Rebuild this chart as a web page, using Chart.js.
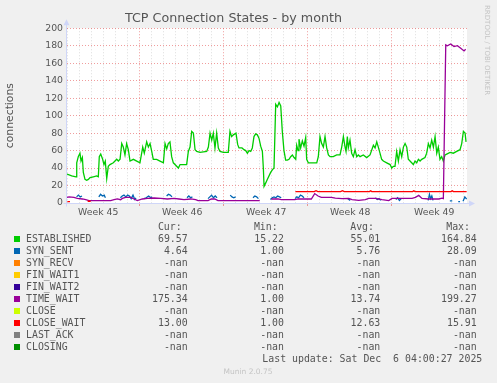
<!DOCTYPE html>
<html><head><meta charset="utf-8">
<script src="https://cdn.jsdelivr.net/npm/chart.js@4/dist/chart.umd.min.js"></script>
<style>
html,body{margin:0;padding:0;background:#F0F0F0;}
#wrap{position:relative;width:497px;height:383px;overflow:hidden;background:#F0F0F0;}
#c{position:absolute;left:0;top:0;}
.t{position:absolute;white-space:pre;font-family:'DejaVu Sans Mono',monospace;font-size:9.9px;line-height:12px;height:12px;color:#555;}
.sq{position:absolute;width:6px;height:6px;}
#wm{position:absolute;left:482px;top:5px;writing-mode:vertical-rl;font-family:'DejaVu Sans',sans-serif;font-size:7px;color:#c4c4c4;white-space:nowrap;line-height:9px;}
#ver{position:absolute;left:148px;width:200px;top:366px;text-align:center;font-family:'DejaVu Sans',sans-serif;font-size:7.5px;line-height:12px;color:#c4c4c4;}
</style></head>
<body><div id="wrap"><canvas id="c" width="497" height="383"></canvas>
<div id="wm">RRDTOOL / TOBI OETIKER</div>
<div id="ver">Munin 2.0.75</div>
</div>
<script>
// ---- axis / category data ----
const weekLabels  = ['Week 45','Week 46','Week 47','Week 48','Week 49'];
const weekCenters = [2.6, 9.6, 16.6, 23.6, 30.6];
const weekStarts  = [6, 13, 20, 27];
const yTicks = [0,20,40,60,80,100,120,140,160,180,200];

// ---- ESTABLISHED (days since start, connections) ----
const estT = [0,0.39,0.75,0.81,0.94,1.08,1.17,1.28,1.36,1.50,
1.64,1.78,1.92,2.19,2.47,2.61,2.69,2.81,2.97,3.08,
3.19,3.31,3.44,3.58,3.86,4.00,4.14,4.28,4.42,4.56,
4.69,4.83,4.97,5.11,5.25,5.53,5.81,6.08,6.31,6.44,
6.64,6.78,6.92,7.06,7.19,7.47,7.75,8.03,8.17,8.31,
8.44,8.58,8.72,8.86,9.00,9.14,9.28,9.42,9.69,9.97,
10.11,10.25,10.39,10.53,10.67,10.81,11.08,11.64,11.78,11.92,
12.06,12.19,12.33,12.47,12.61,12.75,13.03,13.44,13.58,13.72,
13.86,14.08,14.22,14.33,14.58,14.75,14.89,15.03,15.17,15.31,
15.44,15.58,15.72,15.86,16.00,16.14,16.28,16.36,16.42,16.56,
16.69,16.97,17.11,17.25,17.39,17.53,17.67,17.81,17.94,18.08,
18.22,18.36,18.50,18.64,18.78,18.92,19.06,19.14,19.25,19.33,
19.47,19.61,19.75,19.89,19.97,20.11,20.39,20.81,20.94,21.08,
21.22,21.36,21.50,21.64,21.78,21.92,22.19,22.47,22.75,22.89,
23.03,23.17,23.25,23.36,23.44,23.58,23.72,23.86,24.00,24.14,
24.28,24.42,24.69,24.97,25.25,25.53,25.67,25.81,25.94,26.08,
26.22,26.36,26.64,26.92,27.06,27.19,27.33,27.47,27.61,27.75,
27.89,28.03,28.17,28.31,28.44,28.58,28.72,28.86,29.00,29.14,
29.28,29.42,29.56,29.83,29.97,30.11,30.25,30.39,30.53,30.67,
30.81,30.94,31.08,31.22,31.36,31.50,31.64,31.92,32.19,32.47,
32.75,32.89,33.03,33.17,33.25];
const estV = [33,31,30,46,53,57,48,52,35,27,
26,27,29,30,31,30,53,56,50,44,
48,28,42,44,46,48,50,48,50,68,
64,55,68,61,48,50,48,46,64,57,
70,64,68,59,50,50,48,46,68,62,
68,70,53,46,44,42,40,44,44,44,
59,64,82,80,61,59,58,59,64,80,
72,80,63,80,63,59,58,58,82,76,
78,80,67,63,63,61,60,57,60,59,
63,76,79,78,74,65,59,40,19,23,
27,35,38,40,113,110,115,111,82,60,
49,49,50,53,55,52,50,66,60,73,
63,71,65,75,50,46,46,46,53,76,
68,64,76,63,55,53,53,55,55,64,
76,64,59,76,63,72,57,53,61,53,
55,53,55,52,55,66,63,70,64,57,
50,48,46,44,40,42,42,59,48,61,
53,64,68,64,50,48,46,44,48,46,
50,48,50,52,57,68,63,72,64,76,
57,64,50,53,48,55,56,58,57,59,
61,68,82,80,70];

// ---- SYN_SENT ----
const ssT = [0.80,0.95,1.10,1.25,1.40, 2.65,2.80,2.95,3.10,3.20,3.30,
4.45,4.60,4.75,4.90,5.05,5.20,5.35,5.50,5.65,5.75,5.90,
6.40,6.60,6.80,7.00,7.10,7.25, 8.30,8.45,8.60,8.75,8.90,
10.00,10.15,10.30,10.45,10.60, 11.75,11.90,12.05,12.20,12.35,12.50,12.70,
13.60,13.75,13.90,14.05,14.20, 15.50,15.65,15.80,15.95,16.10,
16.95,17.10,17.25,17.40,17.55,17.70,17.85,18.00,
19.00,19.15,19.30,19.45,19.60,19.75,19.90,
23.40,23.60,23.70, 25.70,25.85,26.00,26.15,26.30,
27.40,27.55,27.70,27.85,28.00, 30.10,30.20,30.30,30.40,30.50,30.60,
31.90,32.10,32.20, 32.60,32.75,32.85, 33.00,33.15,33.30];
const ssV = [7,9,7,8,null, 7,10,8,9,6,null,
6,8,9,7,9,8,5,9,4,6,null,
5,6,8,6,7,null, 8,10,9,7,null,
6,8,6,7,null, 5,7,9,6,8,6,null,
9,7,6,7,null, 6,8,7,5,null,
4,6,7,6,8,7,6,null,
5,7,6,9,8,6,null,
5,3,null, 6,4,5,3,null,
4,6,3,5,null, 3,10,5,8,3,null,
2.5,2.5,null, 1.5,1.5,null, 2,7,4.6];

// ---- TIME_WAIT ----
const twT = [0.00,0.17,0.58,0.86,1.28,1.56,1.83,2.11,2.53,3.64,
3.92,4.19,4.47,4.61,4.89,5.31,5.58,5.86,6.28,6.69,
7.25,7.81,8.36,8.92,9.33,9.75,10.31,10.72,10.92,11.75,
12.03,12.31,12.58,13.42,14.81,16.06,16.20,17.03,17.58,17.86,
18.97,19.25,20.36,20.64,20.92,21.19,22.03,22.36,22.92,23.47,
23.75,24.31,24.86,25.14,25.69,26.25,26.81,27.08,27.64,28.75,
29.03,29.31,29.58,30.14,30.97,31.25,31.36,31.56,31.69,31.97,
32.25,32.53,32.81,33.08,33.22];
const twV = [6.4,7.0,6.4,5.3,4.6,3.8,2.7,2.7,2.7,2.7,
3.8,4.6,3.8,5.3,6.4,6.4,4.6,2.7,4.6,5.3,
5.7,5.3,4.6,5.3,4.6,3.8,4.6,3.8,2.7,2.7,
4.6,4.6,2.7,2.7,2.7,2.7,null,4.6,4.6,3.8,
3.8,4.6,4.6,10.8,8.0,6.4,6.4,5.5,5.0,5.3,
3.8,3.0,3.8,5.3,5.3,3.8,2.7,5.3,5.3,5.3,
6.4,8.7,5.3,4.6,4.6,5.5,5.0,181,180,182,
179,180,177,174,176];

// ---- CLOSE_WAIT ----
const cwT = [0.03,0.25,0.30,1.72,1.97,2.00,19.03,20.60,20.75,20.90,
22.80,22.95,23.10,25.20,25.30,25.40,28.80,28.90,29.00,32.00,
32.10,32.20,33.30];
const cwV = [1.5,1.5,null,2.0,2.0,null,13,13,14,13,
13,14,13,13,14,13,13,14,13,13,
14,13,13];

// ---- legend table ----
const names  = ['ESTABLISHED','SYN_SENT','SYN_RECV','FIN_WAIT1','FIN_WAIT2','TIME_WAIT','CLOSE','CLOSE_WAIT','LAST_ACK','CLOSING'];
const colors = ['#00CC00','#0066B3','#FF8000','#FFCC00','#330099','#990099','#CCFF00','#FF0000','#808080','#008F00'];
const curV = ['69.57','4.64','-nan','-nan','-nan','175.34','-nan','13.00','-nan','-nan'];
const minV = ['15.22','1.00','-nan','-nan','-nan','1.00','-nan','1.00','-nan','-nan'];
const avgV = ['55.01','5.76','-nan','-nan','-nan','13.74','-nan','12.63','-nan','-nan'];
const maxV = ['164.84','28.09','-nan','-nan','-nan','199.27','-nan','15.91','-nan','-nan'];
const headers = ['Cur:','Min:','Avg:','Max:'];
const lastUpdate = 'Last update: Sat Dec  6 04:00:27 2025';

const pts = (T, V) => T.map((t, i) => ({x: t, y: V[i]}));

const MAJ = 'rgba(225,60,60,0.5)';
const MIN = 'rgba(150,150,150,0.32)';
const AXIS = '#CFD6F8';
const FONT = '#555';

const muninPlugin = {
  id: 'munin',
  beforeDraw(chart) {
    const {ctx, chartArea: a} = chart;
    ctx.save();
    ctx.fillStyle = '#FFFFFF';
    ctx.fillRect(a.left, a.top, a.right - a.left, a.bottom - a.top);
    ctx.restore();
  },
  beforeDatasetsDraw(chart) {
    const {ctx, chartArea: a} = chart;
    const x0 = Math.round(a.left) - 0.5, y0 = Math.round(a.bottom) + 0.5;
    ctx.save();
    ctx.strokeStyle = AXIS; ctx.fillStyle = AXIS; ctx.lineWidth = 1;
    ctx.beginPath();
    ctx.moveTo(x0, y0 + 3); ctx.lineTo(x0, a.top - 4);
    ctx.moveTo(x0 - 3, y0); ctx.lineTo(a.right + 3, y0);
    ctx.stroke();
    ctx.beginPath();
    ctx.moveTo(x0 - 3, a.top - 3); ctx.lineTo(x0 + 3, a.top - 3); ctx.lineTo(x0, a.top - 9); ctx.closePath(); ctx.fill();
    ctx.beginPath();
    ctx.moveTo(a.right + 2, y0 - 3); ctx.lineTo(a.right + 2, y0 + 3); ctx.lineTo(a.right + 8, y0); ctx.closePath(); ctx.fill();
    ctx.restore();
  }
};

const line = (label, T, V, color, order) => ({
  label, data: pts(T, V), borderColor: color, backgroundColor: color,
  borderWidth: 1.3, pointRadius: 0, tension: 0, spanGaps: false, fill: false, order
});

new Chart(document.getElementById('c'), {
  type: 'line',
  data: {
    datasets: [
      line('CLOSE_WAIT', cwT, cwV, colors[7], 1),
      line('TIME_WAIT', twT, twV, colors[5], 2),
      line('SYN_SENT', ssT, ssV, colors[1], 3),
      line('ESTABLISHED', estT, estV, colors[0], 4)
    ]
  },
  options: {
    responsive: false, animation: false, devicePixelRatio: 1, events: [],
    layout: {padding: {left: 0, right: 30, top: 0, bottom: 160}},
    plugins: {
      legend: {display: false}, tooltip: {enabled: false},
      title: {display: true, text: 'TCP Connection States - by month', color: FONT,
        font: {family: 'DejaVu Sans', size: 12.7, weight: 'normal'}, padding: {top: 11, bottom: 2}}
    },
    scales: {
      x: {
        type: 'linear', min: 0, max: 33.33,
        afterBuildTicks: (s) => {
          const t = [];
          for (let d = 0; d <= 33; d++) t.push({value: d});
          weekCenters.forEach(v => t.push({value: v}));
          t.sort((a, b) => a.value - b.value);
          s.ticks = t;
        },
        afterFit: (s) => { s.height = 20; },
        ticks: {
          autoSkip: false, maxRotation: 0, minRotation: 0, padding: 1, color: FONT,
          font: {family: 'DejaVu Sans', size: 9.3},
          callback: (v) => { const i = weekCenters.indexOf(v); return i >= 0 ? weekLabels[i] : ''; }
        },
        grid: {
          drawTicks: true, tickLength: 3, lineWidth: 1,
          color: (c) => { const v = c.tick ? c.tick.value : -1; if (weekCenters.includes(v)) return 'rgba(0,0,0,0)'; return weekStarts.includes(v) ? MAJ : MIN; },
          tickColor: (c) => { const v = c.tick ? c.tick.value : -1; return weekStarts.includes(v) ? MAJ : 'rgba(0,0,0,0)'; }
        },
        border: {display: false, dash: [1, 2]}
      },
      y: {
        type: 'linear', min: 0, max: 200,
        afterFit: (s) => { s.width = 67; },
        ticks: {
          stepSize: 10, padding: 4, color: FONT,
          font: {family: 'DejaVu Sans', size: 9.3},
          callback: (v) => yTicks.includes(v) ? String(v) : ''
        },
        grid: {
          drawTicks: false, lineWidth: 1,
          color: (c) => (c.tick && c.tick.value % 20 === 0) ? MAJ : MIN
        },
        border: {display: false, dash: [1, 2]},
        title: {display: true, text: 'connections', color: FONT,
          font: {family: 'DejaVu Sans', size: 10.8}, padding: {top: 4, bottom: 0}}
      }
    }
  },
  plugins: [muninPlugin]
});

// legend table as text
const wrap = document.getElementById('wrap');
function txt(s, x, yc, right) {
  const d = document.createElement('div');
  d.className = 't';
  d.textContent = s;
  d.style.top = (yc - 6) + 'px';
  if (right) { d.style.left = (x - 300) + 'px'; d.style.width = '300px'; d.style.textAlign = 'right'; }
  else d.style.left = x + 'px';
  wrap.appendChild(d);
}
const headEnd = [181.7, 277.7, 374, 470];
const valEnd = [187.7, 284, 380.3, 476.7];
headers.forEach((h, i) => txt(h, headEnd[i], 227.3, true));
const cols = [curV, minV, avgV, maxV];
names.forEach((n, r) => {
  const yc = 239.3 + r * 12;
  const sq = document.createElement('div');
  sq.className = 'sq'; sq.style.left = '14px'; sq.style.top = (yc - 3) + 'px'; sq.style.background = colors[r];
  wrap.appendChild(sq);
  txt(n, 26, yc, false);
  cols.forEach((col, i) => txt(col[r], valEnd[i], yc, true));
});
txt(lastUpdate, 482.3, 359.3, true);
</script>
</body></html>
